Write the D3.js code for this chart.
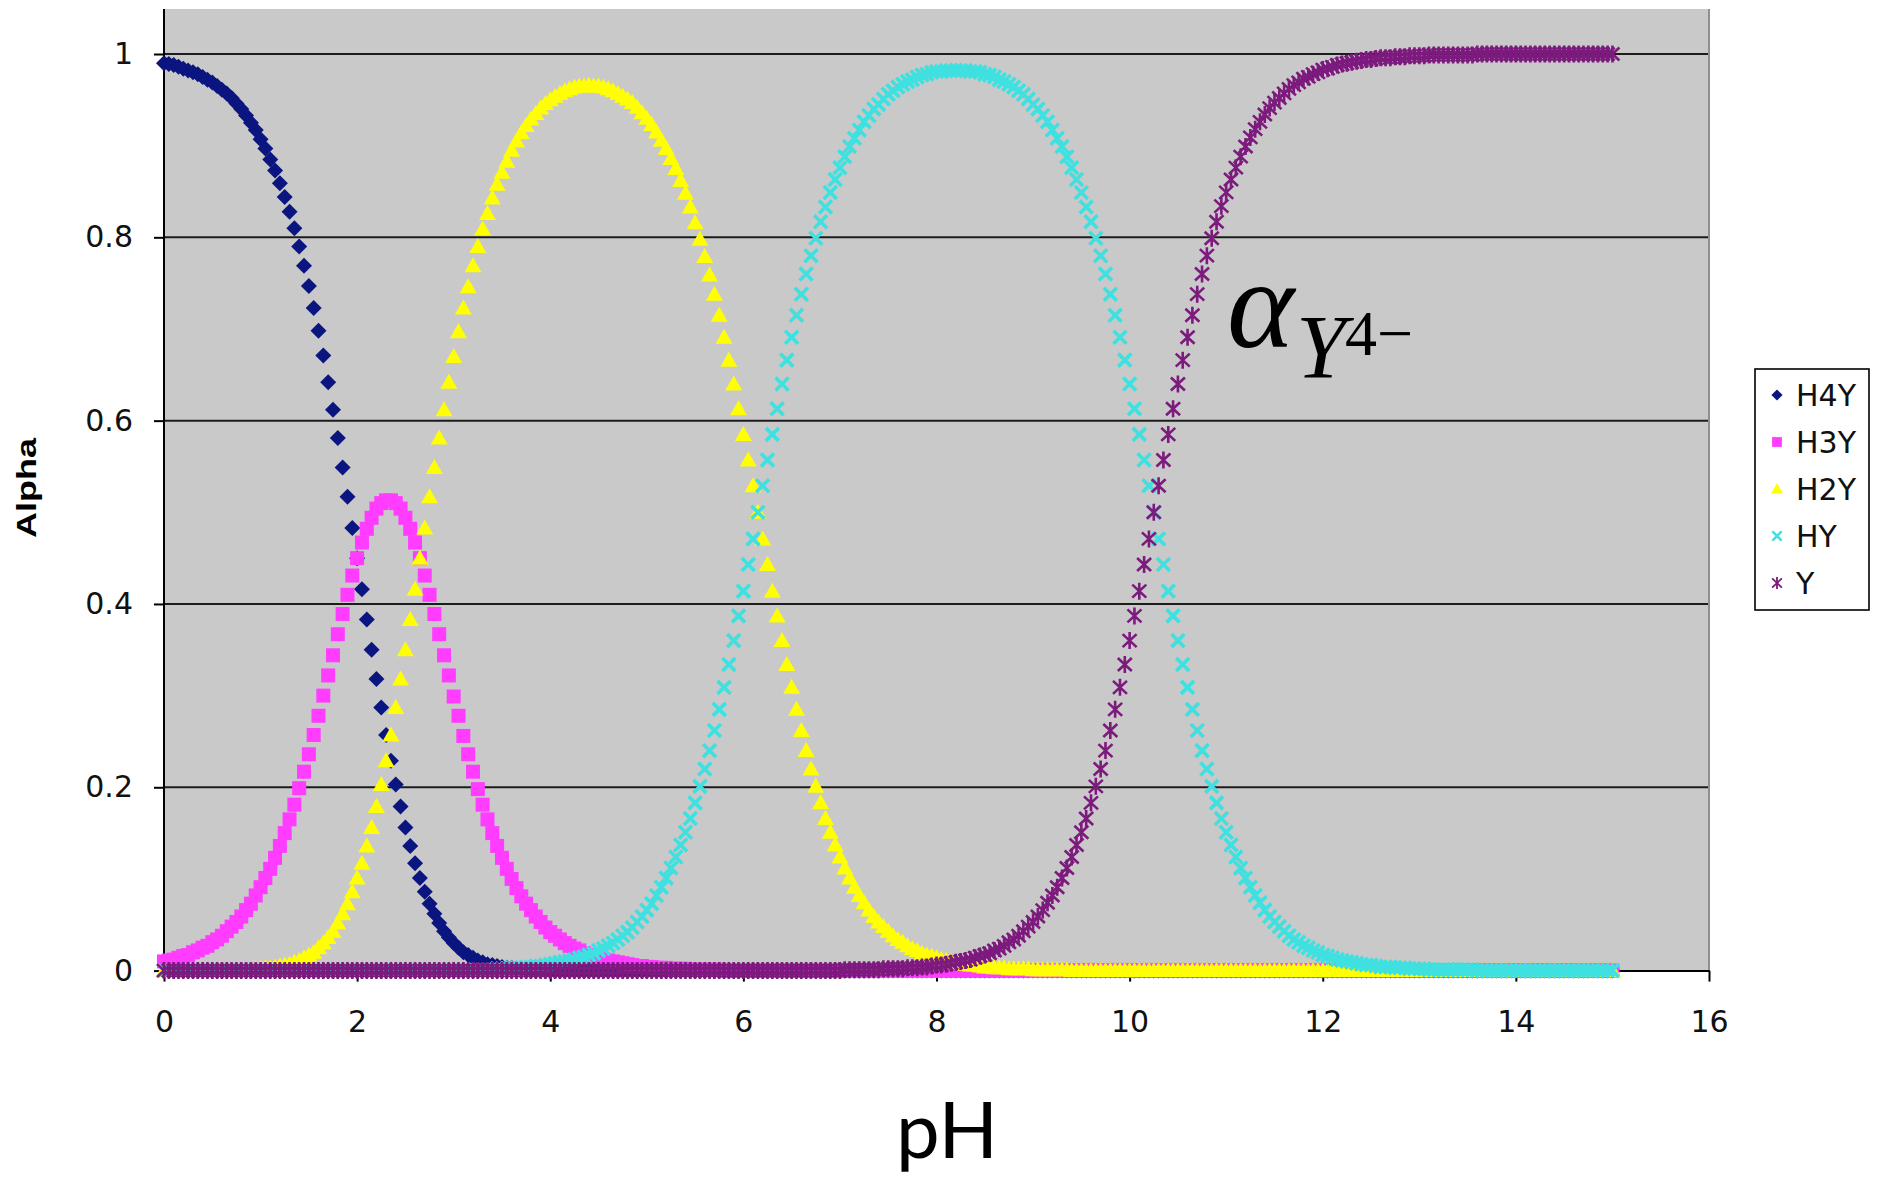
<!DOCTYPE html>
<html>
<head>
<meta charset="utf-8">
<title>EDTA alpha fractions vs pH</title>
<script src="https://cdn.jsdelivr.net/npm/d3@7"></script>
<style>
  body { margin: 0; background: #fff; }
  svg { display: block; }
</style>
</head>
<body>
<svg id="chart"></svg>
<script>
// sampled pH values (one row per pH unit)
const pH = [
  0,0.05,0.1,0.15,0.2,0.25,0.3,0.35,0.4,0.45,0.5,0.55,0.6,0.65,0.7,0.75,0.8,0.85,0.9,0.95,
  1,1.05,1.1,1.15,1.2,1.25,1.3,1.35,1.4,1.45,1.5,1.55,1.6,1.65,1.7,1.75,1.8,1.85,1.9,1.95,
  2,2.05,2.1,2.15,2.2,2.25,2.3,2.35,2.4,2.45,2.5,2.55,2.6,2.65,2.7,2.75,2.8,2.85,2.9,2.95,
  3,3.05,3.1,3.15,3.2,3.25,3.3,3.35,3.4,3.45,3.5,3.55,3.6,3.65,3.7,3.75,3.8,3.85,3.9,3.95,
  4,4.05,4.1,4.15,4.2,4.25,4.3,4.35,4.4,4.45,4.5,4.55,4.6,4.65,4.7,4.75,4.8,4.85,4.9,4.95,
  5,5.05,5.1,5.15,5.2,5.25,5.3,5.35,5.4,5.45,5.5,5.55,5.6,5.65,5.7,5.75,5.8,5.85,5.9,5.95,
  6,6.05,6.1,6.15,6.2,6.25,6.3,6.35,6.4,6.45,6.5,6.55,6.6,6.65,6.7,6.75,6.8,6.85,6.9,6.95,
  7,7.05,7.1,7.15,7.2,7.25,7.3,7.35,7.4,7.45,7.5,7.55,7.6,7.65,7.7,7.75,7.8,7.85,7.9,7.95,
  8,8.05,8.1,8.15,8.2,8.25,8.3,8.35,8.4,8.45,8.5,8.55,8.6,8.65,8.7,8.75,8.8,8.85,8.9,8.95,
  9,9.05,9.1,9.15,9.2,9.25,9.3,9.35,9.4,9.45,9.5,9.55,9.6,9.65,9.7,9.75,9.8,9.85,9.9,9.95,
  10,10.05,10.1,10.15,10.2,10.25,10.3,10.35,10.4,10.45,10.5,10.55,10.6,10.65,10.7,10.75,10.8,10.85,10.9,10.95,
  11,11.05,11.1,11.15,11.2,11.25,11.3,11.35,11.4,11.45,11.5,11.55,11.6,11.65,11.7,11.75,11.8,11.85,11.9,11.95,
  12,12.05,12.1,12.15,12.2,12.25,12.3,12.35,12.4,12.45,12.5,12.55,12.6,12.65,12.7,12.75,12.8,12.85,12.9,12.95,
  13,13.05,13.1,13.15,13.2,13.25,13.3,13.35,13.4,13.45,13.5,13.55,13.6,13.65,13.7,13.75,13.8,13.85,13.9,13.95,
  14,14.05,14.1,14.15,14.2,14.25,14.3,14.35,14.4,14.45,14.5,14.55,14.6,14.65,14.7,14.75,14.8,14.85,14.9,14.95,
  15
];

const H4Y = [
  0.990,0.989,0.988,0.986,0.984,0.982,0.980,0.978,0.975,0.972,0.969,0.965,0.961,0.957,0.952,0.946,0.940,0.933,0.925,0.917,
  0.907,0.897,0.885,0.873,0.859,0.844,0.828,0.810,0.790,0.769,0.747,0.723,0.698,0.671,0.642,0.612,0.581,0.549,0.517,0.483,
  0.450,0.416,0.383,0.350,0.318,0.287,0.257,0.229,0.203,0.179,0.156,0.136,0.117,0.101,0.086,0.073,0.062,0.052,0.043,0.036,
  0.030,0.025,0.020,0.017,0.014,0.011,0.009,0.007,0.006,0.005,0.004,0.003,0.003,0.002,0.002,0.001,0.001,0.001,0.001,0.001,
  0,0,0,0,0,0,0,0,0,0,0,0,0,0,0,0,0,0,0,0,
  0,0,0,0,0,0,0,0,0,0,0,0,0,0,0,0,0,0,0,0,
  0,0,0,0,0,0,0,0,0,0,0,0,0,0,0,0,0,0,0,0,
  0,0,0,0,0,0,0,0,0,0,0,0,0,0,0,0,0,0,0,0,
  0,0,0,0,0,0,0,0,0,0,0,0,0,0,0,0,0,0,0,0,
  0,0,0,0,0,0,0,0,0,0,0,0,0,0,0,0,0,0,0,0,
  0,0,0,0,0,0,0,0,0,0,0,0,0,0,0,0,0,0,0,0,
  0,0,0,0,0,0,0,0,0,0,0,0,0,0,0,0,0,0,0,0,
  0,0,0,0,0,0,0,0,0,0,0,0,0,0,0,0,0,0,0,0,
  0,0,0,0,0,0,0,0,0,0,0,0,0,0,0,0,0,0,0,0,
  0,0,0,0,0,0,0,0,0,0,0,0,0,0,0,0,0,0,0,0,
  0
];

const H3Y = [
  0.010,0.011,0.012,0.014,0.016,0.017,0.020,0.022,0.025,0.027,0.031,0.034,0.038,0.043,0.048,0.053,0.059,0.066,0.073,0.082,
  0.091,0.101,0.111,0.123,0.136,0.150,0.165,0.181,0.199,0.217,0.236,0.257,0.278,0.300,0.322,0.344,0.367,0.389,0.410,0.431,
  0.450,0.467,0.482,0.494,0.504,0.510,0.513,0.513,0.510,0.504,0.494,0.482,0.467,0.450,0.431,0.410,0.389,0.367,0.344,0.322,
  0.299,0.278,0.256,0.236,0.217,0.198,0.181,0.165,0.150,0.136,0.123,0.111,0.100,0.090,0.081,0.073,0.066,0.059,0.053,0.047,
  0.042,0.038,0.034,0.030,0.027,0.024,0.022,0.019,0.017,0.015,0.014,0.012,0.011,0.010,0.009,0.008,0.007,0.006,0.005,0.005,
  0.004,0.004,0.003,0.003,0.003,0.002,0.002,0.002,0.002,0.001,0.001,0.001,0.001,0.001,0.001,0.001,0,0,0,0,
  0,0,0,0,0,0,0,0,0,0,0,0,0,0,0,0,0,0,0,0,
  0,0,0,0,0,0,0,0,0,0,0,0,0,0,0,0,0,0,0,0,
  0,0,0,0,0,0,0,0,0,0,0,0,0,0,0,0,0,0,0,0,
  0,0,0,0,0,0,0,0,0,0,0,0,0,0,0,0,0,0,0,0,
  0,0,0,0,0,0,0,0,0,0,0,0,0,0,0,0,0,0,0,0,
  0,0,0,0,0,0,0,0,0,0,0,0,0,0,0,0,0,0,0,0,
  0,0,0,0,0,0,0,0,0,0,0,0,0,0,0,0,0,0,0,0,
  0,0,0,0,0,0,0,0,0,0,0,0,0,0,0,0,0,0,0,0,
  0,0,0,0,0,0,0,0,0,0,0,0,0,0,0,0,0,0,0,0,
  0
];

const H2Y = [
  0,0,0,0,0,0,0,0,0,0,0,0,0,0,0.001,0.001,0.001,0.001,0.001,0.002,
  0.002,0.003,0.003,0.004,0.005,0.006,0.007,0.009,0.011,0.014,0.017,0.020,0.025,0.030,0.036,0.043,0.052,0.062,0.073,0.086,
  0.101,0.117,0.136,0.156,0.179,0.203,0.229,0.257,0.287,0.318,0.350,0.383,0.416,0.450,0.483,0.517,0.549,0.581,0.612,0.642,
  0.670,0.697,0.723,0.746,0.769,0.790,0.809,0.826,0.843,0.858,0.871,0.883,0.895,0.905,0.914,0.922,0.929,0.935,0.941,0.946,
  0.950,0.954,0.957,0.960,0.962,0.964,0.965,0.965,0.966,0.965,0.965,0.964,0.962,0.960,0.957,0.954,0.951,0.947,0.942,0.936,
  0.930,0.923,0.915,0.906,0.897,0.886,0.875,0.862,0.848,0.833,0.816,0.798,0.779,0.759,0.738,0.715,0.691,0.666,0.640,0.613,
  0.585,0.557,0.529,0.500,0.471,0.443,0.414,0.387,0.360,0.334,0.309,0.285,0.262,0.240,0.220,0.201,0.183,0.166,0.151,0.137,
  0.124,0.112,0.101,0.091,0.082,0.074,0.066,0.059,0.053,0.048,0.043,0.038,0.034,0.031,0.027,0.024,0.022,0.019,0.017,0.016,
  0.014,0.012,0.011,0.010,0.009,0.008,0.007,0.006,0.006,0.005,0.004,0.004,0.003,0.003,0.003,0.002,0.002,0.002,0.002,0.002,
  0.001,0.001,0.001,0.001,0.001,0.001,0.001,0.001,0,0,0,0,0,0,0,0,0,0,0,0,
  0,0,0,0,0,0,0,0,0,0,0,0,0,0,0,0,0,0,0,0,
  0,0,0,0,0,0,0,0,0,0,0,0,0,0,0,0,0,0,0,0,
  0,0,0,0,0,0,0,0,0,0,0,0,0,0,0,0,0,0,0,0,
  0,0,0,0,0,0,0,0,0,0,0,0,0,0,0,0,0,0,0,0,
  0,0,0,0,0,0,0,0,0,0,0,0,0,0,0,0,0,0,0,0,
  0
];

const HY = [
  0,0,0,0,0,0,0,0,0,0,0,0,0,0,0,0,0,0,0,0,
  0,0,0,0,0,0,0,0,0,0,0,0,0,0,0,0,0,0,0,0,
  0,0,0,0,0,0,0,0,0,0,0,0,0,0,0,0,0,0,0,0,
  0,0.001,0.001,0.001,0.001,0.001,0.001,0.001,0.001,0.002,0.002,0.002,0.003,0.003,0.003,0.004,0.004,0.005,0.005,0.006,
  0.007,0.008,0.009,0.010,0.011,0.012,0.014,0.015,0.017,0.019,0.022,0.024,0.027,0.030,0.034,0.038,0.042,0.047,0.053,0.059,
  0.066,0.073,0.082,0.091,0.101,0.112,0.124,0.137,0.151,0.166,0.183,0.201,0.220,0.240,0.262,0.285,0.309,0.334,0.360,0.387,
  0.414,0.443,0.471,0.500,0.529,0.557,0.585,0.613,0.640,0.666,0.691,0.715,0.738,0.760,0.780,0.799,0.817,0.833,0.849,0.863,
  0.876,0.888,0.899,0.908,0.917,0.926,0.933,0.940,0.945,0.951,0.956,0.960,0.964,0.967,0.970,0.972,0.975,0.977,0.978,0.980,
  0.981,0.981,0.982,0.982,0.982,0.982,0.982,0.981,0.981,0.980,0.978,0.977,0.975,0.972,0.970,0.967,0.964,0.960,0.956,0.951,
  0.945,0.940,0.933,0.926,0.917,0.908,0.899,0.888,0.876,0.863,0.849,0.833,0.817,0.799,0.780,0.760,0.738,0.715,0.691,0.666,
  0.640,0.613,0.585,0.557,0.529,0.500,0.471,0.443,0.414,0.387,0.360,0.334,0.309,0.285,0.262,0.240,0.220,0.201,0.183,0.166,
  0.151,0.137,0.124,0.112,0.101,0.091,0.082,0.074,0.066,0.059,0.053,0.048,0.043,0.038,0.034,0.031,0.027,0.025,0.022,0.020,
  0.017,0.016,0.014,0.012,0.011,0.010,0.009,0.008,0.007,0.006,0.006,0.005,0.004,0.004,0.004,0.003,0.003,0.003,0.002,0.002,
  0.002,0.002,0.001,0.001,0.001,0.001,0.001,0.001,0.001,0.001,0.001,0.001,0,0,0,0,0,0,0,0,
  0,0,0,0,0,0,0,0,0,0,0,0,0,0,0,0,0,0,0,0,
  0
];

const Y = [
  0,0,0,0,0,0,0,0,0,0,0,0,0,0,0,0,0,0,0,0,
  0,0,0,0,0,0,0,0,0,0,0,0,0,0,0,0,0,0,0,0,
  0,0,0,0,0,0,0,0,0,0,0,0,0,0,0,0,0,0,0,0,
  0,0,0,0,0,0,0,0,0,0,0,0,0,0,0,0,0,0,0,0,
  0,0,0,0,0,0,0,0,0,0,0,0,0,0,0,0,0,0,0,0,
  0,0,0,0,0,0,0,0,0,0,0,0,0,0,0,0,0,0,0,0,
  0,0,0,0,0,0,0,0,0,0,0,0,0,0,0,0,0,0,0,0,
  0,0.001,0.001,0.001,0.001,0.001,0.001,0.001,0.001,0.002,0.002,0.002,0.002,0.002,0.003,0.003,0.003,0.004,0.004,0.005,
  0.006,0.006,0.007,0.008,0.009,0.010,0.011,0.012,0.014,0.016,0.017,0.019,0.022,0.024,0.027,0.031,0.034,0.038,0.043,0.048,
  0.053,0.059,0.066,0.074,0.082,0.091,0.101,0.112,0.124,0.137,0.151,0.166,0.183,0.201,0.220,0.240,0.262,0.285,0.309,0.334,
  0.360,0.387,0.414,0.443,0.471,0.500,0.529,0.557,0.585,0.613,0.640,0.666,0.691,0.715,0.738,0.760,0.780,0.799,0.817,0.834,
  0.849,0.863,0.876,0.888,0.899,0.909,0.918,0.926,0.934,0.941,0.947,0.952,0.957,0.962,0.966,0.969,0.973,0.975,0.978,0.980,
  0.983,0.984,0.986,0.988,0.989,0.990,0.991,0.992,0.993,0.994,0.994,0.995,0.996,0.996,0.996,0.997,0.997,0.997,0.998,0.998,
  0.998,0.998,0.999,0.999,0.999,0.999,0.999,0.999,0.999,0.999,0.999,0.999,1,1,1,1,1,1,1,1,
  1,1,1,1,1,1,1,1,1,1,1,1,1,1,1,1,1,1,1,1,
  1
];

const seriesNames = ['H4Y', 'H3Y', 'H2Y', 'HY', 'Y'];
const seriesValues = [H4Y, H3Y, H2Y, HY, Y];
const xTickValues = [0, 2, 4, 6, 8, 10, 12, 14, 16];
const yTickValues = [0, 0.2, 0.4, 0.6, 0.8, 1];


class AlphaPlot {

    constructor(_config, _data) {
      this.config = {
        parentElement: _config.parentElement,
        containerWidth: _config.containerWidth || 1879,
        containerHeight: _config.containerHeight || 1177,
        plot: _config.plot || {left: 164, right: 1709, top: 9, zero: 970.6, one: 54}
      }
      this.data = _data;
      // marker look per series, Excel default order
      this.styles = [
        {shape: 'M0,-8L8,0L0,8L-8,0Z', fill: '#0b1580'},
        {shape: 'M-7,-7H7V7H-7Z', fill: '#ff3cff'},
        {shape: 'M0,-8.5L8.5,6.5L-8.5,6.5Z', fill: '#ffff00'},
        {shape: 'M-6.5,-6.5L6.5,6.5M6.5,-6.5L-6.5,6.5', stroke: '#3fe0e0', width: 3.6},
        {shape: 'M-7,-6.5L7,6.5M7,-6.5L-7,6.5M0,-8.5V8.5', stroke: '#7d1a7e', width: 2.6}
      ];
      this.initVis();
    }

    initVis() {
      let vis = this;
      const p = vis.config.plot;

      vis.svg = d3.select(vis.config.parentElement)
          .attr('width', vis.config.containerWidth)
          .attr('height', vis.config.containerHeight);

      vis.x = d3.scaleLinear().domain([0, 16]).range([p.left, p.right]);
      vis.y = d3.scaleLinear().domain([0, 1]).range([p.zero, p.one]);

      // grey plot area
      vis.svg.append('rect')
          .attr('x', p.left).attr('y', p.top)
          .attr('width', p.right - p.left).attr('height', p.zero - p.top)
          .attr('fill', '#c9c9c9');

      // horizontal gridlines
      vis.svg.append('g')
        .selectAll('line')
        .data(yTickValues.filter(d => d > 0))
        .join('line')
          .attr('x1', p.left).attr('x2', p.right)
          .attr('y1', d => vis.y(d)).attr('y2', d => vis.y(d))
          .attr('stroke', '#1c1c1c').attr('stroke-width', 2);

      // right border of plot area
      vis.svg.append('line')
          .attr('x1', p.right).attr('x2', p.right)
          .attr('y1', p.top).attr('y2', p.zero)
          .attr('stroke', '#8f8f8f').attr('stroke-width', 2);

      // axes
      const xAxis = d3.axisBottom(vis.x)
          .tickValues(xTickValues).tickSize(11).tickSizeOuter(0).tickPadding(29);
      const yAxis = d3.axisLeft(vis.y)
          .tickValues(yTickValues).tickFormat(d3.format('~g'))
          .tickSize(10).tickSizeOuter(0).tickPadding(21);

      vis.xAxisG = vis.svg.append('g')
          .attr('transform', `translate(0,${p.zero})`)
          .call(xAxis);
      vis.yAxisG = vis.svg.append('g')
          .attr('transform', `translate(${p.left},0)`)
          .call(yAxis);
      vis.yAxisG.select('.domain').remove();

      [vis.xAxisG, vis.yAxisG].forEach(g => {
        g.attr('font-family', 'DejaVu Sans').attr('font-size', 30);
        g.selectAll('text').attr('fill', '#111');
        g.selectAll('line').attr('stroke', '#000').attr('stroke-width', 2);
        g.selectAll('.domain').attr('stroke', '#000').attr('stroke-width', 2);
      });

      // left axis line over the full height of the grey area
      vis.svg.append('line')
          .attr('x1', p.left).attr('x2', p.left)
          .attr('y1', p.top).attr('y2', p.zero)
          .attr('stroke', '#000').attr('stroke-width', 2);

      // axis titles
      vis.svg.append('text')
          .attr('transform', 'translate(36,488) rotate(-90)')
          .attr('text-anchor', 'middle')
          .attr('font-family', 'Liberation Sans').attr('font-weight', 'bold')
          .attr('font-size', 28)
          .attr('textLength', 100).attr('lengthAdjust', 'spacingAndGlyphs')
          .text('Alpha');

      vis.svg.append('text')
          .attr('x', 947).attr('y', 1158)
          .attr('text-anchor', 'middle')
          .attr('font-family', 'Lato').attr('font-size', 78)
          .text('pH');

      vis.updateVis();
    }

    updateVis() {
      let vis = this;
      vis.series = vis.data.names.map((name, s) => ({
        name: name,
        style: vis.styles[s],
        points: vis.data.pH.map((x, i) => ({pH: x, value: vis.data.values[s][i]}))
      }));
      vis.renderVis();
    }

    renderVis() {
      let vis = this;

      const paint = (sel, st) => sel
          .attr('d', st.shape)
          .attr('fill', st.fill || 'none')
          .attr('stroke', st.stroke || 'none')
          .attr('stroke-width', st.width || 0);

      vis.svg.append('g').attr('class', 'markers')
        .selectAll('g')
        .data(vis.series)
        .join('g')
        .each(function(s) {
          d3.select(this).selectAll('path')
            .data(s.points)
            .join('path')
              .attr('transform', d => `translate(${vis.x(d.pH)},${vis.y(d.value)})`)
              .call(paint, s.style);
        });

      // annotation alpha_{Y^{4-}}
      const note = vis.svg.append('g').attr('font-family', 'Liberation Serif');
      note.append('text').attr('x', 1227).attr('y', 347)
          .attr('font-style', 'italic').attr('font-size', 128).text('α');
      note.append('text').attr('x', 1296).attr('y', 378)
          .attr('font-style', 'italic').attr('font-size', 90).text('Y');
      note.append('text').attr('x', 1345).attr('y', 355)
          .attr('font-size', 64).text('4');
      note.append('text').attr('x', 1377).attr('y', 355)
          .attr('font-size', 64).text('−');

      // legend
      const legend = vis.svg.append('g').attr('transform', 'translate(1755,369)');
      legend.append('rect')
          .attr('width', 114).attr('height', 241)
          .attr('fill', '#fff').attr('stroke', '#000').attr('stroke-width', 1.6);
      const item = legend.selectAll('g.item')
        .data(vis.series)
        .join('g').attr('class', 'item')
          .attr('transform', (d, i) => `translate(22,${26 + i * 47})`);
      item.append('path')
          .attr('transform', 'scale(0.7)')
          .each(function(d) { d3.select(this).call(paint, d.style); });
      item.append('text')
          .attr('x', 19).attr('dy', '0.36em')
          .attr('font-family', 'DejaVu Sans').attr('font-size', 30)
          .attr('fill', '#111')
          .text(d => d.name);
    }
  }

const chart = new AlphaPlot({parentElement: '#chart'},
  {pH: pH, names: seriesNames, values: seriesValues});
</script>
</body>
</html>
